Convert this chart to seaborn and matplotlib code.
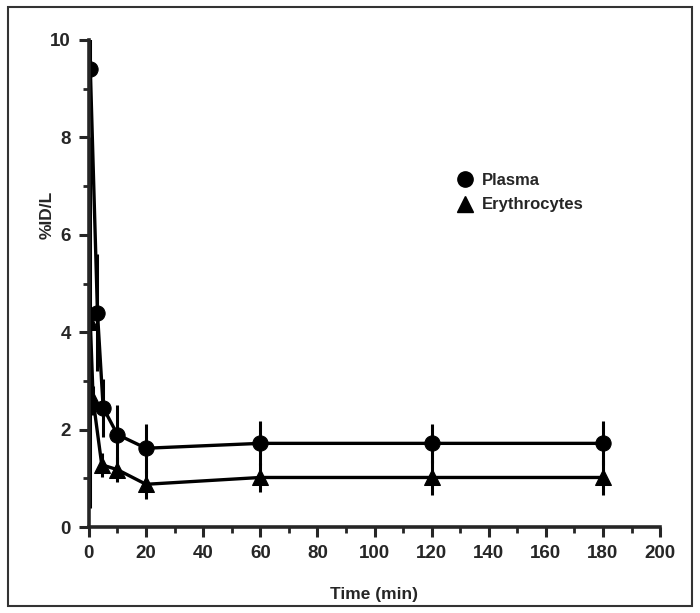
import matplotlib
matplotlib.use("Agg")
import matplotlib.pyplot as plt
import seaborn as sns
import pandas as pd
from matplotlib.patches import Rectangle
from matplotlib.lines import Line2D
from matplotlib.ticker import MultipleLocator

# Data
plasma_time = [0.5, 3, 5, 10, 20, 60, 120, 180]
plasma_val = [9.4, 4.4, 2.45, 1.9, 1.62, 1.72, 1.72, 1.72]
plasma_err = [0.9, 1.2, 0.6, 0.6, 0.5, 0.45, 0.4, 0.45]

ery_time = [0.5, 1.5, 4.5, 10, 20, 60, 120, 180]
ery_val = [4.2, 2.6, 1.28, 1.18, 0.88, 1.02, 1.02, 1.02]
ery_err = [3.8, 0.3, 0.25, 0.25, 0.3, 0.3, 0.35, 0.35]

series_names = ["Plasma", "Erythrocytes"]
x_ticks = [0, 20, 40, 60, 80, 100, 120, 140, 160, 180, 200]
y_ticks = [0, 2, 4, 6, 8, 10]

df = pd.concat([
    pd.DataFrame({"time": plasma_time, "val": plasma_val, "err": plasma_err, "series": series_names[0]}),
    pd.DataFrame({"time": ery_time, "val": ery_val, "err": ery_err, "series": series_names[1]}),
])

sns.set_style("ticks")
plt.rcParams["font.family"] = ["Liberation Sans", "DejaVu Sans"]
plt.rcParams["font.weight"] = "bold"

fig = plt.figure(figsize=(7.0, 6.13), dpi=100)
ax = fig.add_axes([0.127, 0.140, 0.816, 0.795])

markers = {"Plasma": "o", "Erythrocytes": "^"}
for name in series_names:
    sub = df[df["series"] == name]
    sns.lineplot(data=sub, x="time", y="val", ax=ax, color="black", linewidth=2.4,
                 marker=markers[name], markersize=11, markeredgecolor="black",
                 markerfacecolor="black", estimator=None, sort=False, legend=False)
    ax.errorbar(sub["time"], sub["val"], yerr=sub["err"], fmt="none", ecolor="black",
                elinewidth=2.2, capsize=0)

ax.set_xlim(0, 200)
ax.set_ylim(0, 10)
ax.set_xticks(x_ticks)
ax.set_yticks(y_ticks)
ax.xaxis.set_minor_locator(MultipleLocator(10))
ax.yaxis.set_minor_locator(MultipleLocator(1))
ax.tick_params(axis="both", which="major", direction="out", length=7, width=2.2,
               labelsize=13.5, pad=6)
ax.tick_params(axis="both", which="minor", direction="out", length=4, width=2.0)
for lab in ax.get_xticklabels() + ax.get_yticklabels():
    lab.set_fontweight("bold")
sns.despine(ax=ax)
for s in ["left", "bottom"]:
    ax.spines[s].set_linewidth(2.6)

ax.set_xlabel("Time (min)", fontsize=12.5, fontweight="bold")
ax.set_ylabel("%ID/L", fontsize=12.5, fontweight="bold")
ax.xaxis.set_label_coords(0.5, -0.122)
ax.yaxis.set_label_coords(-0.06, 0.64)

handles = [
    Line2D([], [], color="black", marker="o", linestyle="none", markersize=11),
    Line2D([], [], color="black", marker="^", linestyle="none", markersize=11),
]
ax.legend(handles, series_names, loc="upper left", bbox_to_anchor=(0.615, 0.757),
          frameon=False, prop={"weight": "bold", "size": 12}, handletextpad=0.4,
          labelspacing=0.55, handlelength=1.2)

fig.patches.append(Rectangle((0.012, 0.012), 0.976, 0.976, transform=fig.transFigure,
                             fill=False, edgecolor="#333333", linewidth=1.5))

fig.savefig("out.png", dpi=100)
